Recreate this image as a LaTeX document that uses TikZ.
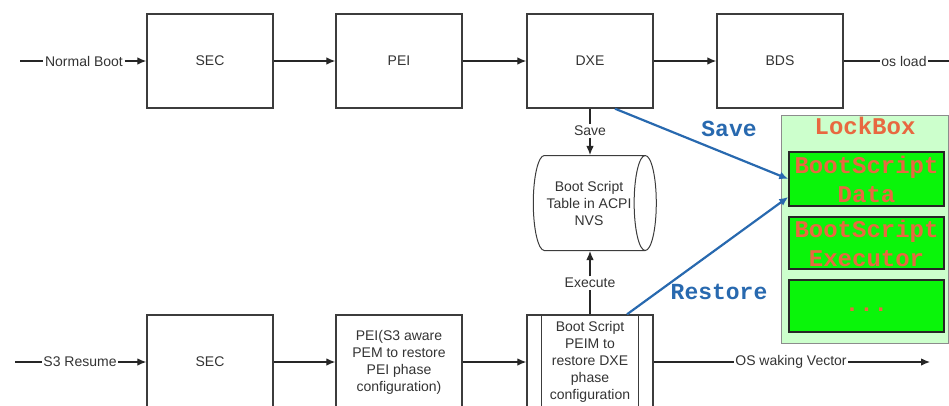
\documentclass[tikz,border=0pt]{standalone}
\usepackage{fontspec}
\setmainfont{Liberation Sans}
\newfontfamily\lbmono{Liberation Mono}
\usetikzlibrary{shapes.geometric,arrows.meta,calc}
\definecolor{lbfill}{RGB}{204,255,204}
\definecolor{lbgreen}{RGB}{10,245,10}
\definecolor{lbred}{RGB}{232,104,64}
\definecolor{flowblue}{RGB}{40,105,175}
\definecolor{boxgray}{RGB}{60,60,60}

\begin{document}
\begin{tikzpicture}[x=1pt,y=-1pt,
  phase/.style={draw=boxgray,line width=1.4pt,minimum width=126pt,minimum height=94pt,inner sep=0pt,align=center,font=\fontsize{14}{17}\selectfont,text=black!80},
  lab/.style={font=\fontsize{14}{17}\selectfont,inner sep=1.5pt,text=black!80},
  flow/.style={draw=black!85,line width=1.2pt},
  flowarr/.style={flow,-{Latex[length=9pt,width=7.5pt]}},
  lbitem/.style={draw=black!85,line width=1.5pt,fill=lbgreen,minimum width=155pt,inner sep=0pt,align=center,text=lbred,font=\lbmono\bfseries\fontsize{24}{29}\selectfont},
  bigword/.style={font=\lbmono\bfseries\fontsize{23}{28}\selectfont,text=flowblue,inner sep=0pt},
  link/.style={draw=flowblue,line width=2.2pt,-{Latex[length=9pt,width=8pt]}}]
\clip (0,0) rectangle (949,405);

% normal boot path
\foreach \name/\x/\lab in {sec1/210/SEC, pei1/399/PEI, dxe/590/DXE, bds/780/BDS}
  \node[phase] (\name) at (\x,61) {\lab};
\node[lab] (nb) at (84,61) {Normal Boot};
\coordinate (nbin) at (20,61);
\node[lab] (osl) at (904,61) {os load};
\coordinate (osout) at (950,61);
\draw[flow] (nbin) -- (nb);
\draw[flowarr] (nb) -- (sec1);
\draw[flowarr] (sec1) -- (pei1);
\draw[flowarr] (pei1) -- (dxe);
\draw[flowarr] (dxe) -- (bds);
\draw[flow] (bds) -- (osl) -- (osout);

% S3 resume path
\node[phase] (sec2) at (210,362) {SEC};
\node[phase] (pei2) at (399,362) {PEI(S3 aware\\PEM to restore\\PEI phase\\configuration)};
\node[phase] (boot) at (590,362) {Boot Script\\PEIM to\\restore DXE\\phase\\configuration};
\draw[boxgray,line width=1.4pt] ($(boot.north west)+(15,0)$) -- ($(boot.south west)+(15,0)$);
\draw[boxgray,line width=1.4pt] ($(boot.north east)+(-15,0)$) -- ($(boot.south east)+(-15,0)$);
\node[lab] (s3) at (80,362) {S3 Resume};
\coordinate (s3in) at (15,362);
\node[lab] (wake) at (791,362) {OS waking Vector};
\coordinate (wakeout) at (930,362);
\draw[flow] (s3in) -- (s3);
\draw[flowarr] (s3) -- (sec2);
\draw[flowarr] (sec2) -- (pei2);
\draw[flowarr] (pei2) -- (boot);
\draw[flow] (boot) -- (wake);
\draw[flowarr] (wake) -- (wakeout);

% boot script table
\node[cylinder,draw=boxgray,line width=1pt,minimum height=123pt,minimum width=95pt,aspect=0.5,
  align=center,inner sep=0pt,font=\fontsize{14}{17}\selectfont,text=black!80] (nvs) at (589,203)
  {Boot Script\\Table in ACPI\\NVS};
\node[lab] (savet) at (590,131) {Save};
\node[lab] (exect) at (590,283) {Execute};
\draw[flow] (dxe) -- (savet);
\draw[flowarr] (savet) -- (savet |- nvs.north);
\draw[flow] (boot) -- (exect);
\draw[flowarr] (exect) -- (exect |- nvs.south);

% lockbox
\node[draw=black!45,fill=lbfill,line width=0.8pt,minimum width=167pt,minimum height=228pt,inner sep=0pt] (lockbox) at (864.5,229) {};
\node[font=\lbmono\bfseries\fontsize{24}{29}\selectfont,text=lbred,inner sep=0pt] (lbtitle) at (865,126) {LockBox};
\node[lbitem,minimum height=54pt] (data) at (866.5,179) {BootScript\\Data};
\node[lbitem,minimum height=52pt] (exec) at (866.5,243) {BootScript\\Executor};
\node[lbitem,minimum height=52pt] (more) at (866.5,306) {\strut...};

\node[bigword] (savew) at (729,129) {Save};
\node[bigword] (restw) at (719,292) {Restore};
\draw[link] ($(dxe.south)+(25,0)$) -- (data.west);
\draw[link] ($(boot.north)+(37,0)$) -- ($(data.west)+(0,18)$);
\end{tikzpicture}
\end{document}
